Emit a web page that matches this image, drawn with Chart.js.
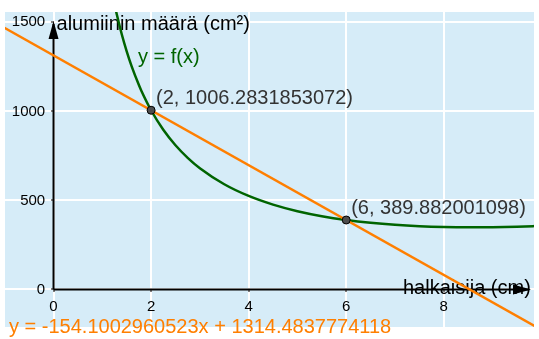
<!DOCTYPE html>
<html>
<head>
<meta charset="utf-8">
<script src="https://cdn.jsdelivr.net/npm/chart.js@4/dist/chart.umd.min.js"></script>
<style>
  html, body { margin: 0; padding: 0; background: #ffffff; }
  #wrap { width: 539px; height: 339px; }
</style>
</head>
<body>
<div id="wrap"><canvas id="myChart" width="539" height="339"></canvas></div>
<script>
// f(x)
const curveX = [1.2, 1.25, 1.3, 1.4, 1.5, 1.6, 1.75, 1.8, 2, 2.25, 2.5, 2.75, 3, 3.5, 4, 4.5, 5, 5.5, 6, 6.5, 7, 7.5, 8, 8.5, 9, 9.5, 10];
const curveY = [1669.0, 1602.5, 1541.1, 1431.6, 1336.9, 1254.0, 1147.7, 1116.2, 1006.3, 896.8, 809.8, 739.2, 680.8, 590.7, 525.1, 476.3, 439.3, 411.2, 389.9, 374.1, 362.7, 355.0, 350.5, 348.8, 349.5, 352.3, 357.1];

// secant line ends
const lineX = [-1.2, 10];
const lineY = [1499.4, -226.5];

// marked points
const pointX = [2, 6];
const pointY = [1006.2831853072, 389.882001098];
const pointLabels = ["(2, 1006.2831853072)", "(6, 389.882001098)"];

// tick values
const xTicks = [0, 2, 4, 6, 8];
const yTicks = [0, 500, 1000, 1500];

const curveLabel = "y = f(x)";
const lineLabel = "y = -154.1002960523x + 1314.4837774118";
const xTitle = "halkaisija (cm)";
const yTitle = "alumiinin määrä (cm²)";

const FONT = "'Liberation Sans', Arial, sans-serif";

const toXY = (xs, ys) => xs.map((x, i) => ({ x: x, y: ys[i] }));

const decorPlugin = {
  id: "decor",
  beforeDraw(chart) {
    const { ctx, chartArea: a } = chart;
    ctx.save();
    ctx.fillStyle = "#d6ecf8";
    ctx.fillRect(a.left, a.top, a.right - a.left, a.bottom - a.top);
    ctx.restore();
  },
  beforeDatasetsDraw(chart) {
    const { ctx, chartArea: a, scales } = chart;
    const x0 = scales.x.getPixelForValue(0);
    const y0 = scales.y.getPixelForValue(0);
    ctx.save();
    // axes
    ctx.strokeStyle = "#000000";
    ctx.lineWidth = 2;
    ctx.beginPath();
    ctx.moveTo(x0, y0);
    ctx.lineTo(x0, a.top + 12);
    ctx.moveTo(x0, y0);
    ctx.lineTo(a.right - 6, y0);
    ctx.stroke();
    ctx.fillStyle = "#000000";
    ctx.beginPath();
    ctx.moveTo(x0, a.top + 9);
    ctx.lineTo(x0 - 5, a.top + 27);
    ctx.lineTo(x0 + 5, a.top + 27);
    ctx.closePath();
    ctx.fill();
    ctx.beginPath();
    ctx.moveTo(a.right - 3, y0);
    ctx.lineTo(a.right - 21, y0 - 5);
    ctx.lineTo(a.right - 21, y0 + 5);
    ctx.closePath();
    ctx.fill();

    // texts
    ctx.font = "20px " + FONT;
    ctx.textBaseline = "alphabetic";
    ctx.textAlign = "left";
    ctx.fillStyle = "#000000";
    ctx.fillText(yTitle, x0 + 3, 30);
    ctx.fillText(xTitle, 403, 294);

    ctx.fillStyle = "#006400";
    ctx.fillText(curveLabel, 138, 63);

    ctx.fillStyle = "#333333";
    pointX.forEach((px, i) => {
      const cx = scales.x.getPixelForValue(px);
      const cy = scales.y.getPixelForValue(pointY[i]);
      ctx.fillText(pointLabels[i], cx + 5, cy - 6.5);
    });

    ctx.fillStyle = "#ff7f00";
    ctx.fillText(lineLabel, 9, 333);
    ctx.restore();
  },
};

const ctx = document.getElementById("myChart").getContext("2d");
new Chart(ctx, {
  type: "scatter",
  data: {
    datasets: [
      {
        label: "f",
        data: toXY(curveX, curveY),
        showLine: true,
        borderColor: "#006400",
        borderWidth: 2.5,
        pointRadius: 0,
        cubicInterpolationMode: "monotone",
        order: 3,
      },
      {
        label: "line",
        data: toXY(lineX, lineY),
        showLine: true,
        borderColor: "#ff7f00",
        borderWidth: 2.5,
        pointRadius: 0,
        order: 2,
      },
      {
        label: "points",
        data: toXY(pointX, pointY),
        showLine: false,
        pointRadius: 4,
        pointBackgroundColor: "#4d4d4d",
        pointBorderColor: "#000000",
        pointBorderWidth: 1,
        order: 1,
      },
    ],
  },
  options: {
    responsive: false,
    animation: false,
    layout: { padding: { left: 5, top: 4, right: 0, bottom: 0 } },
    plugins: {
      legend: { display: false },
      tooltip: { enabled: false },
    },
    scales: {
      x: {
        type: "linear",
        position: { y: 0 },
        min: -0.995,
        max: 9.85,
        border: { display: false },
        grid: { color: "#ffffff", lineWidth: 2, tickColor: "#000000", tickLength: 3, tickWidth: 1 },
        afterBuildTicks: (scale) => {
          scale.ticks = xTicks.map((v) => ({ value: v }));
        },
        ticks: {
          color: "#000000",
          padding: 5,
          font: { family: FONT, size: 15 },
          callback: (v) => String(v),
        },
      },
      y: {
        type: "linear",
        position: { x: 0 },
        min: -211,
        max: 1558,
        border: { display: false },
        grid: { color: "#ffffff", lineWidth: 2, tickColor: "#000000", tickLength: 3, tickWidth: 1 },
        afterBuildTicks: (scale) => {
          scale.ticks = yTicks.map((v) => ({ value: v }));
        },
        ticks: {
          color: "#000000",
          font: { family: FONT, size: 15 },
          callback: (v) => String(v) + "  ",
        },
      },
    },
  },
  plugins: [decorPlugin],
});
</script>
</body>
</html>
